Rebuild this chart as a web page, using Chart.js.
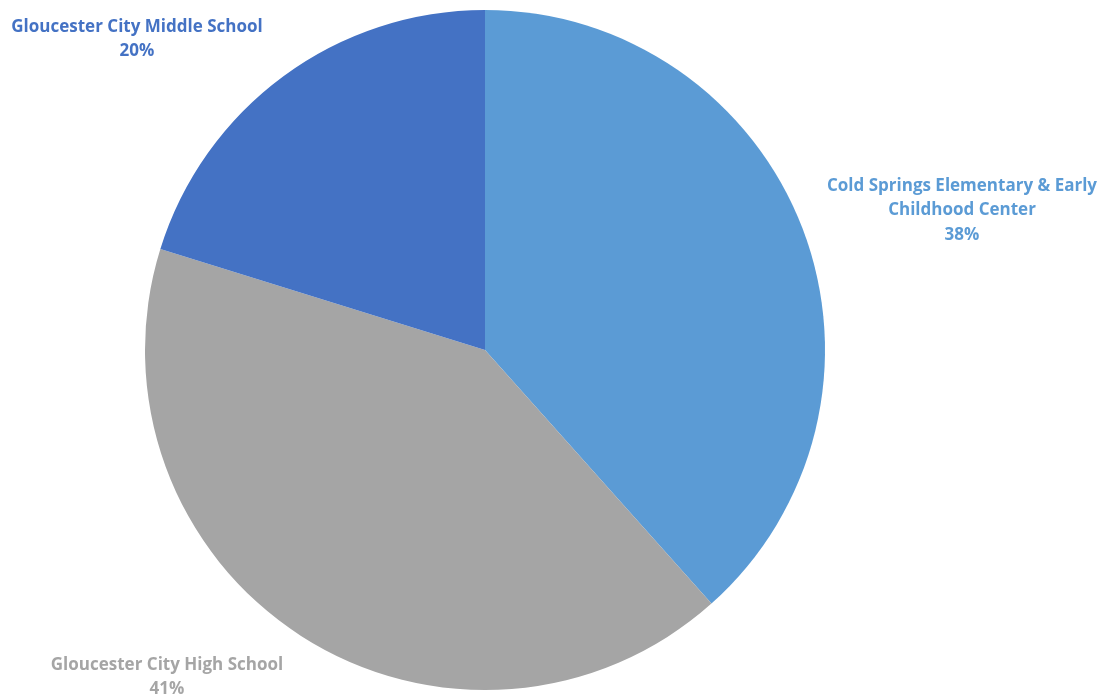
<!DOCTYPE html>
<html>
<head>
<meta charset="utf-8">
<script src="https://cdn.jsdelivr.net/npm/chart.js@4"></script>
<style>
  html, body { margin: 0; padding: 0; background: #fff; }
  #wrap { width: 1099px; height: 698px; position: relative; }
</style>
</head>
<body>
<div id="wrap"><canvas id="schoolPie"></canvas></div>
<script>
const schools = [
    ['Cold Springs Elementary & Early', 'Childhood Center'],
    ['Gloucester City High School'],
    ['Gloucester City Middle School']
];
const shares = [38.4, 41.4, 20.2];
const sliceColors = ['#5b9bd5', '#a5a5a5', '#4472c4'];
const labelColors = ['#5b9bd5', '#a5a5a5', '#4472c4'];

// where each label block is centred (x) and where its first line sits (y)
const labelAnchors = [
    { x: 962, y: 186 },
    { x: 167, y: 665 },
    { x: 137, y: 27 }
];

const outsideLabels = {
    id: 'outsideLabels',
    afterDraw(chart) {
        const ctx = chart.ctx;
        const data = chart.data.datasets[0].data;
        const total = data.reduce((a, b) => a + b, 0);
        ctx.save();
        ctx.font = 'bold 17px "Open Sans", sans-serif';
        ctx.textAlign = 'center';
        ctx.textBaseline = 'middle';
        chart.data.labels.forEach((lines, i) => {
            const pct = Math.round(data[i] / total * 100) + '%';
            const rows = lines.concat([pct]);
            ctx.fillStyle = labelColors[i];
            rows.forEach((t, j) => {
                ctx.fillText(t, labelAnchors[i].x, labelAnchors[i].y + j * 24.5);
            });
        });
        ctx.restore();
    }
};

new Chart(document.getElementById('schoolPie'), {
    type: 'pie',
    data: {
        labels: schools,
        datasets: [{
            data: shares,
            backgroundColor: sliceColors,
            borderWidth: 0
        }]
    },
    options: {
        responsive: true,
        maintainAspectRatio: false,
        animation: false,
        layout: { padding: { left: 145, right: 274, top: 10, bottom: 8 } },
        plugins: {
            legend: { display: false },
            tooltip: { enabled: false }
        }
    },
    plugins: [outsideLabels]
});
</script>
</body>
</html>
